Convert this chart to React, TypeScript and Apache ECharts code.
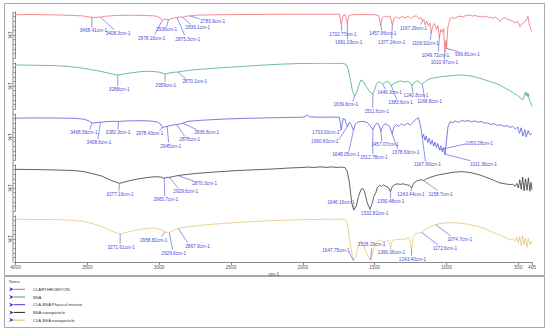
import React, { useEffect, useRef } from "react";
import * as echarts from "echarts";

const seriesNames = ["CLARTHROMYCIN", "BSA", "CLA-BSA Physical mixture", "BSA nanoparticle", "CLA-BSA nanoparticle"];
const xTicks = [4000, 3500, 3000, 2500, 2000, 1500, 1000, 500, 405];

const clarithromycin: number[][] = [
  [4000, 94], [3900, 94.5], [3800, 94], [3700, 93.5], [3600, 92.5], [3530, 91.5], [3495, 89.5], [3468, 88.5], [3440, 88.3], [3408, 88.8], [3380, 90.5], [3300, 92.5], [3200, 93], [3100, 92.5], [3030, 91.5], [2995, 88], [2978, 82], [2960, 84.5], [2936, 83], [2910, 86], [2875, 88], [2855, 89.5], [2836, 88.5], [2810, 91], [2784, 91.5], [2750, 93], [2600, 94], [2400, 94.5], [2200, 95], [2000, 95.2], [1800, 95.2], [1745, 95], [1733, 74], [1720, 92], [1705, 94], [1691, 76], [1680, 92], [1660, 94], [1600, 94.5], [1500, 94], [1472, 92], [1458, 72], [1448, 87], [1430, 91], [1410, 89], [1392, 91], [1377, 71], [1367, 86], [1350, 89], [1330, 86], [1310, 90], [1290, 87], [1270, 91], [1250, 86], [1230, 90], [1210, 92], [1190, 85], [1178, 88], [1167, 80], [1158, 84], [1148, 72], [1138, 80], [1125, 70], [1116, 76], [1106, 55], [1095, 70], [1085, 75], [1070, 62], [1060, 70], [1049, 45], [1040, 62], [1030, 56], [1020, 64], [1011, 11], [1005, 38], [1000, 20], [990, 68], [975, 86], [960, 88], [945, 86], [938, 87], [920, 90], [904, 91], [885, 89], [870, 92], [850, 93], [834, 93], [815, 91], [800, 93], [780, 90], [765, 91], [745, 89], [725, 91], [710, 88], [696, 89], [680, 86], [660, 89], [640, 84], [627, 79], [612, 86], [592, 88], [575, 84], [557, 83], [540, 80], [523, 76], [505, 79], [488, 68], [470, 76], [453, 79], [440, 85], [433, 91], [425, 75], [418, 66], [412, 61], [405, 58]
];
const bsa: number[][] = [
  [4000, 95.7], [3850, 95], [3750, 94.5], [3650, 93], [3560, 90], [3480, 86], [3400, 81.5], [3340, 77], [3288, 73.9], [3230, 77], [3160, 80], [3100, 82], [3040, 81.5], [3000, 80], [2980, 78.5], [2959, 76], [2935, 78], [2905, 79.5], [2870, 80.5], [2820, 83], [2750, 85.5], [2600, 89], [2450, 92], [2300, 95], [2150, 97.5], [2000, 99], [1850, 99.5], [1720, 99.2], [1700, 97], [1685, 88], [1670, 65], [1655, 40], [1640, 28], [1625, 36], [1610, 52], [1596, 63], [1580, 60], [1560, 50], [1540, 40], [1522, 34], [1512, 33], [1500, 42], [1488, 54], [1475, 59], [1460, 58], [1446, 54], [1432, 57], [1415, 60], [1400, 58], [1383, 50], [1370, 55], [1350, 58], [1320, 61], [1295, 59], [1270, 60], [1255, 58], [1240, 50], [1228, 57], [1210, 61], [1190, 59], [1180, 56], [1168, 54], [1155, 58], [1130, 64], [1100, 67], [1060, 69], [1020, 71], [980, 72], [940, 73.5], [900, 74], [860, 73], [820, 71], [780, 68], [740, 64], [700, 60], [660, 56], [627, 52], [590, 45], [560, 40], [530, 34], [505, 29], [488, 25], [470, 20], [462, 26], [455, 34], [450, 37], [445, 29], [440, 35], [435, 27], [430, 33], [425, 22], [418, 16], [410, 10], [405, 6]
];
const physicalMixture: number[][] = [
  [4000, 91], [3850, 91.5], [3700, 91.2], [3580, 90.5], [3520, 88.5], [3490, 85], [3468, 80], [3440, 81.5], [3408, 82], [3370, 83.5], [3320, 84], [3282, 84], [3220, 85], [3120, 85.5], [3050, 84.5], [3010, 82], [2990, 78], [2978, 70], [2962, 72], [2945, 73], [2920, 75], [2898, 76.5], [2878, 77], [2855, 78.5], [2836, 80], [2800, 84], [2700, 86.5], [2550, 89], [2400, 90.5], [2250, 91.5], [2100, 92.5], [2000, 93], [1975, 96], [1966, 98], [1955, 94], [1900, 93], [1800, 93.2], [1745, 93], [1733, 66], [1720, 90], [1708, 89], [1690, 72], [1676, 82], [1662, 76], [1648, 64], [1635, 78], [1615, 83], [1590, 84], [1565, 83], [1545, 80], [1525, 71], [1512, 66], [1500, 75], [1485, 80], [1470, 77], [1457, 62], [1445, 73], [1428, 79], [1412, 76], [1395, 73], [1378, 56], [1366, 72], [1350, 77], [1332, 73], [1312, 79], [1292, 75], [1272, 80], [1252, 76], [1232, 82], [1212, 89], [1195, 92], [1182, 76], [1168, 48], [1160, 56], [1150, 43], [1141, 52], [1131, 38], [1121, 47], [1110, 34], [1100, 43], [1090, 30], [1080, 39], [1070, 27], [1060, 36], [1050, 22], [1040, 31], [1030, 18], [1020, 27], [1011, 12], [1000, 42], [990, 72], [975, 83], [955, 81], [940, 85], [915, 82], [895, 86], [870, 84], [850, 86], [825, 83], [805, 85], [780, 82], [760, 84], [735, 80], [715, 81], [690, 77], [670, 79], [645, 75], [625, 77], [600, 73], [580, 75], [560, 71], [540, 73], [520, 67], [505, 72], [492, 58], [480, 70], [468, 52], [455, 66], [445, 50], [432, 64], [420, 55], [405, 58]
];
const bsaNano: number[][] = [
  [4000, 90.5], [3850, 90], [3700, 89], [3600, 88], [3530, 86], [3460, 81], [3400, 76], [3330, 66], [3277, 60], [3230, 64], [3160, 69], [3090, 72.5], [3030, 74.5], [2990, 74], [2966, 71], [2945, 73], [2929, 73], [2900, 75], [2870, 77], [2820, 79], [2750, 81.5], [2600, 85], [2450, 88], [2300, 90], [2200, 91.5], [2120, 93], [2060, 94], [2000, 94.5], [1960, 95.5], [1920, 94.5], [1880, 96], [1840, 94.8], [1800, 95.8], [1760, 94.6], [1730, 95.5], [1705, 94], [1690, 85], [1675, 60], [1660, 18], [1646, 2], [1630, 9], [1612, 32], [1595, 47], [1583, 49], [1570, 42], [1552, 18], [1533, 4], [1518, 16], [1505, 32], [1492, 40], [1480, 52], [1465, 56], [1452, 53], [1440, 57], [1425, 54], [1405, 51], [1390, 42], [1378, 53], [1362, 57], [1345, 59], [1320, 58], [1300, 59], [1280, 57], [1260, 56], [1243, 50], [1230, 60], [1210, 65], [1190, 67], [1175, 68], [1159, 66], [1140, 70], [1115, 73], [1085, 76], [1050, 79], [1010, 81], [960, 84], [904, 85.5], [870, 85], [834, 83.5], [800, 81], [765, 78], [730, 74], [696, 70], [660, 65], [627, 61], [592, 59], [557, 57.5], [540, 58], [522, 54], [510, 60], [500, 50], [490, 68], [480, 47], [470, 74], [460, 44], [450, 70], [440, 45], [430, 72], [420, 43], [412, 62], [405, 46]
];
const claBsaNano: number[][] = [
  [4000, 92.8], [3850, 92.6], [3700, 92], [3600, 90.5], [3530, 88.5], [3460, 83], [3400, 77], [3330, 67], [3272, 61], [3220, 65], [3150, 70], [3080, 73], [3030, 74], [2995, 71], [2959, 66], [2945, 64], [2930, 63], [2910, 67], [2890, 71], [2868, 73], [2800, 76.5], [2705, 80], [2550, 84], [2400, 87], [2250, 89.5], [2120, 91], [2000, 92], [1950, 93], [1900, 92.2], [1850, 93.3], [1800, 92.5], [1760, 93.5], [1720, 92.8], [1700, 90], [1685, 75], [1670, 38], [1648, 3], [1632, 12], [1615, 36], [1597, 46], [1582, 41], [1560, 22], [1540, 8], [1528, 4], [1512, 22], [1495, 40], [1478, 46], [1462, 48], [1445, 45], [1425, 44], [1408, 47], [1398, 44], [1390, 30], [1380, 44], [1362, 48], [1340, 49], [1315, 50], [1295, 48], [1275, 51], [1258, 52], [1243, 28], [1232, 54], [1215, 62], [1195, 63], [1173, 64], [1150, 70], [1115, 77], [1075, 81], [1040, 84], [1000, 85], [950, 85.5], [904, 84.5], [860, 82.5], [820, 80], [765, 76], [730, 72], [696, 67], [660, 62], [627, 59], [592, 53], [557, 48], [540, 51], [522, 45], [510, 54], [500, 41], [490, 55], [480, 36], [470, 57], [460, 38], [450, 52], [440, 32], [430, 51], [420, 37], [410, 45], [405, 41]
];

const clarithromycinPeaks = ["3468.41", "3408.3", "2978.19", "2936", "2875.3", "2836.1", "2783.9", "1732.77", "1691.03", "1457.86", "1377.24", "1167.29", "1106.92", "1049.72", "1010.97", "999.81"];
const bsaPeaks = ["3288", "2959", "2870.1", "1639.6", "1511.6", "1446.3", "1383.6", "1240.8", "1168.8"];
const physicalMixturePeaks = ["3468.56", "3408.6", "3282.3", "2978.43", "2945", "2878", "2836.8", "1733.00", "1690.60", "1648.05", "1512.78", "1457.07", "1378.63", "1167.90", "1050.28", "1011.36"];
const bsaNanoPeaks = ["3277.16", "2965.7", "2929.6", "2870.3", "1646.16", "1532.82", "1390.48", "1243.44", "1158.7"];
const claBsaNanoPeaks = ["3271.61", "2958.82", "2929.6", "2867.9", "1647.75", "1528.19", "1390.06", "1243.40", "1172.6", "1074.7"];

// label layout: [leaderEndDx, leaderEndDy, textDx, textDy] in px relative to the peak
const clarithromycinLayout = [[0, 10, 1.5, 13.5], [13.5, 12.5, 17.5, 16], [-7.6, 14.3, -10.6, 17.8], [-1.7, 7, -1.7, 10], [7.6, 18, 10.6, 21.5], [8, 7, 15, 10], [9.4, 3, 22.4, 5.5], [0.6, 7.5, 1.6, 11], [0.5, 16.2, 1.5, 19.7], [1, 5.5, 2, 9], [-0.6, 13.5, -0.6, 17], [-1.9, 3.5, -8.9, 7], [-0.7, 8.5, -5.7, 12], [-1, 15.2, -4, 18.7], [-0.5, 6.6, -0.5, 10.1], [11.9, 3.2, 20.9, 6.2]];
const bsaLayout = [[0, 11, 1.5, 14.3], [0, 7.5, 0.7, 11], [8, 7, 17, 9.5], [-1.8, 5.4, -8.8, 8.9], [-0.4, 14, 3.6, 17.8], [3.2, 5.3, 7.2, 8.5], [5.2, 13.5, 9.2, 16.7], [1, 7, 4, 9.6], [2.3, 13.8, 7.3, 17.6]];
const physicalMixtureLayout = [[-2, 6.3, -8, 9.5], [-2.5, 16.7, -1.5, 20.4], [-0.7, 8.1, -0.7, 11.3], [-2.6, 3.2, -12.6, 6.2], [1.6, 16.1, 3.6, 19.6], [8, 11.9, 13, 15.4], [14, 6.3, 24, 9.5], [-2.4, 1.4, -15.4, 3.1], [-8.5, 13.1, -22.5, 14.8], [-4.5, 20.9, -7.5, 24.4], [0, 24.2, 1, 27.7], [1, 10, 4, 13.5], [5.5, 14.8, 13.5, 18.5], [3, 23.6, 5, 27.1], [27, -5.9, 40, -5.9], [25.5, 6.5, 38.5, 10.5]];
const bsaNanoLayout = [[-0.3, 8.1, 0.7, 11.6], [0.7, 17.7, 1.7, 21], [9.4, 11.1, 16.4, 14.3], [15.8, 5.4, 26.8, 8.4], [0, -5, -12.8, -7.4], [0.8, 1.3, 4.8, 4.8], [0.2, 6.3, 0.2, 10], [-0.5, 3.5, -0.5, 7], [14, 9.9, 17, 13.4]];
const claBsaNanoLayout = [[0, 9.9, 1, 13.4], [-3.4, 4.9, -11.4, 8.4], [3.4, 16.8, 4.4, 20.3], [9.4, 14.1, 19.4, 17.6], [-4.5, -8.6, -17.5, -9.9], [1, -11.7, 1, -15.2], [0, 1, 1, 4.5], [0, 6.7, 1, 10.2], [16.2, 12.4, 23.2, 15.7], [15, 11.3, 24, 14.6]];

const spectra = [clarithromycin, bsa, physicalMixture, bsaNano, claBsaNano];
const peaks = [clarithromycinPeaks, bsaPeaks, physicalMixturePeaks, bsaNanoPeaks, claBsaNanoPeaks];
const layouts = [clarithromycinLayout, bsaLayout, physicalMixtureLayout, bsaNanoLayout, claBsaNanoLayout];
const colors = ["#f0646c", "#3aa77c", "#5252dc", "#2e2e2e", "#e6c46e"];
const legendColors = ["#c8703e", "#5a8a78", "#3a3ad8", "#222222", "#e0c060"];

const FONT = "'Liberation Sans', Arial, sans-serif";
const ANNO = "#4c4cd8";
const GRID_TOP = 12;
const GRID_STEP = 51;
const GRID_H = 46;

function valueAt(data: number[][], wn: number): number {
  for (let i = 0; i < data.length - 1; i++) {
    const a = data[i], b = data[i + 1];
    if (a[0] >= wn && b[0] <= wn) {
      const t = (a[0] - wn) / (a[0] - b[0] || 1);
      return a[1] + (b[1] - a[1]) * t;
    }
  }
  return data[data.length - 1][1];
}

export default function App() {
  const ref = useRef<HTMLDivElement>(null);
  useEffect(() => {
    if (!ref.current) return;
    const chart = echarts.init(ref.current, undefined, { renderer: "svg" });

    const grids = spectra.map((_, i) => ({ left: 13, right: 18, top: GRID_TOP + i * GRID_STEP, height: GRID_H }));
    const xAxes = spectra.map((_, i) => ({
      gridIndex: i, type: "value", min: 405, max: 4000, inverse: true,
      show: i === spectra.length - 1,
      axisLine: { show: true, lineStyle: { color: "#8a8a8a", width: 1 } },
      axisTick: { show: true, customValues: xTicks, length: 3, lineStyle: { color: "#8a8a8a" } },
      axisLabel: { show: true, customValues: xTicks, fontSize: 4.8, color: "#555", margin: 3, fontFamily: FONT, formatter: (v: number) => String(v) },
      splitLine: { show: false },
      name: "cm-1", nameLocation: "middle", nameGap: 10,
      nameTextStyle: { fontSize: 4.8, color: "#444", fontFamily: FONT },
    }));
    const yAxes = spectra.map((_, i) => ({
      gridIndex: i, type: "value", min: 0, max: 100, interval: 10,
      axisLine: { show: true, lineStyle: { color: "#8a8a8a", width: 1 } },
      axisTick: { show: true, length: 2, lineStyle: { color: "#8a8a8a" } },
      axisLabel: { show: false },
      splitLine: { show: false },
      name: "%T", nameLocation: "middle", nameRotate: 90, nameGap: 2.5,
      nameTextStyle: { fontSize: 4.8, color: "#444", fontFamily: FONT },
    }));

    const series: any[] = [];
    spectra.forEach((data, i) => {
      series.push({
        type: "line", name: seriesNames[i], xAxisIndex: i, yAxisIndex: i, data,
        showSymbol: false, symbol: "none", lineStyle: { color: colors[i], width: 0.75 }, z: 2,
      });
      const labels = peaks[i];
      const lay = layouts[i];
      const pts = labels.map((l) => { const wn = parseFloat(l); return [wn, valueAt(data, wn)]; });
      series.push({
        type: "custom", xAxisIndex: i, yAxisIndex: i, data: pts, clip: false, silent: true, z: 5,
        encode: { x: 0, y: 1 },
        renderItem: (params: any, api: any) => {
          const p = api.coord([api.value(0), api.value(1)]);
          const o = lay[params.dataIndex];
          return {
            type: "group",
            children: [
              { type: "line", shape: { x1: p[0], y1: p[1], x2: p[0] + o[0], y2: p[1] + o[1] }, style: { stroke: ANNO, lineWidth: 0.6 } },
              { type: "text", x: p[0] + o[2], y: p[1] + o[3], style: { text: labels[params.dataIndex] + "cm-1", fill: ANNO, fontSize: 4.7, fontFamily: FONT, align: "center", verticalAlign: "middle" } },
            ],
          };
        },
      });
    });

    const graphic: any[] = [
      { type: "rect", silent: true, shape: { x: 4.5, y: 3.5, width: 540, height: 272 }, style: { fill: "none", stroke: "#a8a8a8", lineWidth: 1 } },
      { type: "rect", silent: true, shape: { x: 4.5, y: 276.5, width: 540, height: 51 }, style: { fill: "none", stroke: "#a8a8a8", lineWidth: 1 } },
      { type: "line", silent: true, shape: { x1: 13, y1: GRID_TOP, x2: 13, y2: GRID_TOP + 4 * GRID_STEP + GRID_H }, style: { stroke: "#8a8a8a", lineWidth: 1 } },
      { type: "text", x: 9, y: 281, style: { text: "Name", fontSize: 4, fill: "#444", fontFamily: FONT, verticalAlign: "middle" } },
    ];
    seriesNames.forEach((n, i) => {
      const y = 289.3 + i * 7.7;
      graphic.push({ type: "polygon", silent: true, shape: { points: [[9, y - 2], [14, y], [9, y + 2], [10.6, y]] }, style: { fill: "#2a34c8" } });
      graphic.push({ type: "line", silent: true, shape: { x1: 14, y1: y, x2: 25, y2: y }, style: { stroke: legendColors[i], lineWidth: 1 } });
      graphic.push({ type: "text", x: 33, y, style: { text: n, fontSize: 4.2, fill: "#333", fontFamily: FONT, verticalAlign: "middle" } });
    });

    chart.setOption({
      animation: false,
      backgroundColor: "#ffffff",
      grid: grids,
      xAxis: xAxes,
      yAxis: yAxes,
      series,
      graphic,
    });
    return () => chart.dispose();
  }, []);
  return <div ref={ref} style={{ position: "absolute", left: 0, top: 0, width: 550, height: 332, background: "#fff" }} />;
}
